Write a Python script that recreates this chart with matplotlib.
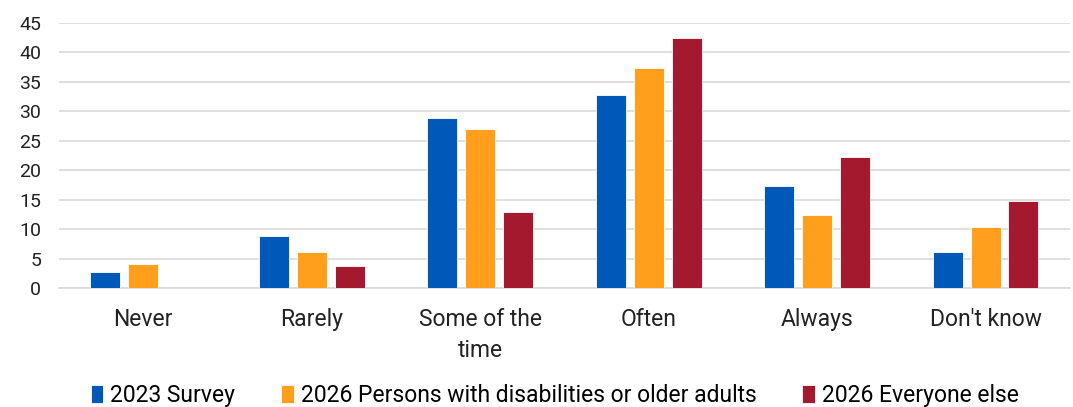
import matplotlib.pyplot as plt
import numpy as np

plt.rcParams['font.family'] = ['Roboto', 'DejaVu Sans']

categories = ["Never", "Rarely", "Some of the\ntime", "Often", "Always", "Don't know"]
survey_2023 = [2.7, 8.8, 28.8, 32.8, 17.3, 6.1]
persons_2026 = [4.1, 6.2, 27.0, 37.4, 12.4, 10.4]
everyone_2026 = [0, 3.7, 12.9, 42.5, 22.2, 14.8]

series = [
    ("2023 Survey", survey_2023, "#0058b8"),
    ("2026 Persons with disabilities or older adults", persons_2026, "#ff9f1c"),
    ("2026 Everyone else", everyone_2026, "#a5192e"),
]

fig = plt.figure(figsize=(10.73, 4.07), dpi=100)
ax = fig.add_axes([0.055, 0.292, 0.942, 0.652])

x = np.arange(len(categories))
width = 0.178
step = 0.225
for i, (name, vals, color) in enumerate(series):
    ax.bar(x + (i - 1) * step, vals, width, color=color, label=name,
           edgecolor="white", linewidth=0.6, zorder=3)

ax.set_xlim(-0.5, len(categories) - 0.5)
ax.set_ylim(0, 45)
ax.set_yticks(range(0, 46, 5))
ax.set_xticks(x)
ax.set_xticklabels(categories, fontsize=16.5, color="#222222", linespacing=1.45)
ax.tick_params(axis='y', labelsize=14, colors="#222222", length=0, pad=13)
ax.tick_params(axis='x', length=0, pad=14)
ax.grid(axis='y', color="#d9d9d9", linewidth=1.2, zorder=0)
for s in ["top", "right", "left"]:
    ax.spines[s].set_visible(False)
ax.spines["bottom"].set_color("#d9d9d9")
ax.spines["bottom"].set_linewidth(1.2)

fig.legend(loc="lower center", bbox_to_anchor=(0.517, -0.05), ncol=3, frameon=False,
           fontsize=16.5, handlelength=0.55, handleheight=0.8, handletextpad=0.3,
           columnspacing=2.0)

fig.savefig("out.png", dpi=100)
